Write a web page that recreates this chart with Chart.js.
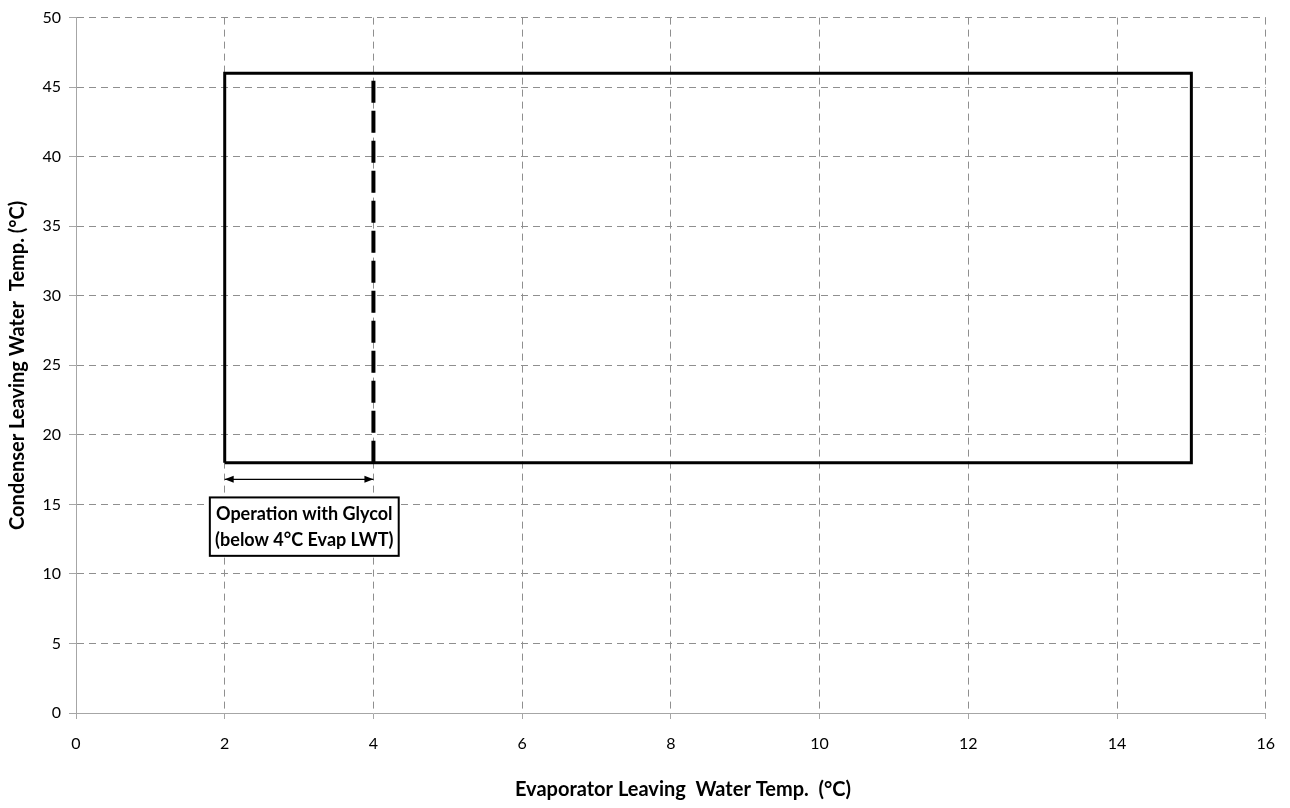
<!DOCTYPE html>
<html><head><meta charset="utf-8">
<script src="https://cdn.jsdelivr.net/npm/chart.js@4/dist/chart.umd.min.js"></script>
<style>html,body{margin:0;padding:0;background:#fff;}</style>
</head><body>
<canvas id="c" width="1290" height="808"></canvas>
<script>
// ---- data ----
const envelopeX = [2, 2, 15, 15, 2];
const envelopeY = [18, 46, 46, 18, 18];
const glycolLimitX = [4, 4];
const glycolLimitY = [18, 46];
const glycolRangeX = [2, 4];
const glycolRangeY = [16.8, 16.8];
const noteLines = ['Operation with Glycol', '(below 4°C Evap LWT)'];
const xTitle = 'Evaporator Leaving  Water Temp.  (°C)';
const yTitle = 'Condenser Leaving Water  Temp. (°C)';
const xLimits = [0, 16];
const xStep = 2;
const yLimits = [0, 50];
const yStep = 5;

const zip = (xs, ys) => xs.map((x, i) => ({x: x, y: ys[i]}));

const FONT = 'Lato, Carlito, Calibri, "Open Sans", sans-serif';

const decor = {
  id: 'decor',
  afterDatasetsDraw(chart) {
    const ctx = chart.ctx, xs = chart.scales.x, ys = chart.scales.y;
    // arrow heads on glycol range
    const ay = ys.getPixelForValue(glycolRangeY[0]);
    const ax1 = xs.getPixelForValue(glycolRangeX[0]);
    const ax2 = xs.getPixelForValue(glycolRangeX[1]);
    ctx.save();
    ctx.fillStyle = '#000';
    const L = 9, W = 3.5;
    ctx.beginPath();
    ctx.moveTo(ax1, ay); ctx.lineTo(ax1 + L, ay - W); ctx.lineTo(ax1 + L, ay + W); ctx.closePath(); ctx.fill();
    ctx.beginPath();
    ctx.moveTo(ax2, ay); ctx.lineTo(ax2 - L, ay - W); ctx.lineTo(ax2 - L, ay + W); ctx.closePath(); ctx.fill();

    // note box
    const bx1 = xs.getPixelForValue(1.8), bx2 = xs.getPixelForValue(4.34);
    const by1 = ys.getPixelForValue(15.5), by2 = ys.getPixelForValue(11.3);
    ctx.fillStyle = '#fff';
    ctx.fillRect(bx1, by1, bx2 - bx1, by2 - by1);
    ctx.lineWidth = 2; ctx.strokeStyle = '#000';
    ctx.strokeRect(bx1, by1, bx2 - bx1, by2 - by1);
    ctx.fillStyle = '#000';
    ctx.textAlign = 'center'; ctx.textBaseline = 'middle';
    ctx.font = 'bold 18px ' + FONT;
    const cx = xs.getPixelForValue(3.07);
    ctx.fillText(noteLines[0], cx, ys.getPixelForValue(14.33));
    ctx.fillText(noteLines[1], cx, ys.getPixelForValue(12.39));
    ctx.restore();
  },
  afterDraw(chart) {
    const ctx = chart.ctx, area = chart.chartArea;
    ctx.save();
    ctx.fillStyle = '#000';
    ctx.textAlign = 'center'; ctx.textBaseline = 'middle';
    ctx.font = 'bold 20px ' + FONT;
    ctx.fillText(xTitle, 683, 790);
    ctx.translate(18, (area.top + area.bottom) / 2);
    ctx.rotate(-Math.PI / 2);
    ctx.fillText(yTitle, 0, 0);
    ctx.restore();
  }
};

const lineDs = (data, extra) => Object.assign({
  data: data, showLine: true, pointRadius: 0, pointHoverRadius: 0,
  borderColor: '#000', backgroundColor: '#000', fill: false, tension: 0,
  borderCapStyle: 'butt', borderJoinStyle: 'miter'
}, extra);

new Chart(document.getElementById('c'), {
  type: 'scatter',
  data: {
    datasets: [
      lineDs(zip(envelopeX, envelopeY), {borderWidth: 3}),
      lineDs(zip(glycolLimitX, glycolLimitY), {borderWidth: 4, borderDash: [22, 8]}),
      lineDs(zip(glycolRangeX, glycolRangeY), {borderWidth: 1.3})
    ]
  },
  options: {
    responsive: false,
    animation: false,
    devicePixelRatio: 1,
    layout: {padding: {left: 0, top: 15, right: 23, bottom: 0}},
    plugins: {legend: {display: false}, tooltip: {enabled: false}},
    scales: {
      x: {
        type: 'linear', min: xLimits[0], max: xLimits[1],
        afterFit(s) { s.height = 95; },
        ticks: {stepSize: xStep, color: '#000', font: {family: FONT, size: 16}, padding: 15, maxRotation: 0},
        grid: {color: '#8f8f8f', lineWidth: 1, tickLength: 6, tickColor: '#a6a6a6', tickBorderDash: []},
        border: {display: true, color: '#a6a6a6', width: 1, dash: [7, 5]}
      },
      y: {
        type: 'linear', min: yLimits[0], max: yLimits[1],
        afterFit(s) { s.width = 76; },
        ticks: {stepSize: yStep, color: '#000', font: {family: FONT, size: 16}, padding: 8},
        grid: {color: '#8f8f8f', lineWidth: 1, tickLength: 7, tickColor: '#a6a6a6', tickBorderDash: []},
        border: {display: true, color: '#a6a6a6', width: 1, dash: [7, 5]}
      }
    }
  },
  plugins: [decor]
});
</script>
</body></html>
